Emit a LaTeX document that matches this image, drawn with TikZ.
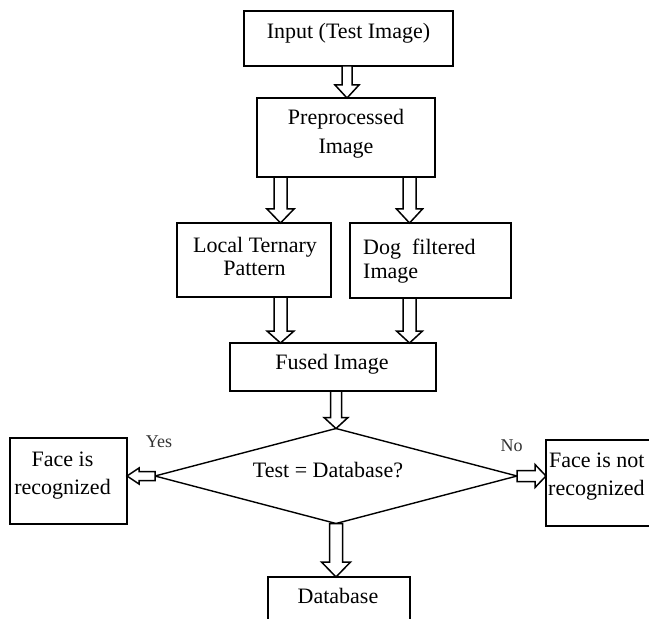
\documentclass[tikz,border=0pt]{standalone}
\usepackage{fontspec}
\setmainfont{Liberation Serif}
\usetikzlibrary{shapes.geometric,calc}
\tikzset{
  box/.style={draw=black, line width=1.4bp, inner sep=0pt, outer sep=0pt},
  txt/.style={inner sep=0pt, anchor=base, font=\fontsize{22bp}{26bp}\selectfont},
  small/.style={inner sep=0pt, anchor=base, text=black!80, font=\fontsize{18bp}{22bp}\selectfont},
  blk/.style={draw=black, fill=white, line width=1.5bp, line join=miter},
}
% downward block arrow: from, to, shaft half width, head half width, head length
\newcommand\dblk[5]{\draw[blk] let \p1=(#1), \p2=(#2) in
  (\x1-#3,\y1) -- (\x1-#3,\y2+#5) -- (\x1-#4,\y2+#5) -- (\x1,\y2)
  -- (\x1+#4,\y2+#5) -- (\x1+#3,\y2+#5) -- (\x1+#3,\y1) -- cycle;}
\newcommand\lblk[5]{\draw[blk] let \p1=(#1), \p2=(#2) in
  (\x1,\y1-#3) -- (\x2+#5,\y1-#3) -- (\x2+#5,\y1-#4) -- (\x2,\y1)
  -- (\x2+#5,\y1+#4) -- (\x2+#5,\y1+#3) -- (\x1,\y1+#3) -- cycle;}
\newcommand\rblk[5]{\draw[blk] let \p1=(#1), \p2=(#2) in
  (\x1,\y1-#3) -- (\x2-#5,\y1-#3) -- (\x2-#5,\y1-#4) -- (\x2,\y1)
  -- (\x2-#5,\y1+#4) -- (\x2-#5,\y1+#3) -- (\x1,\y1+#3) -- cycle;}
\begin{document}
\begin{tikzpicture}[x=1bp,y=-1bp]
\useasboundingbox[fill=white] (0,0) rectangle (649,619);
% boxes
\node[box, minimum width=209bp, minimum height=55bp] (in)  at (348.5,38.5) {};
\node[box, minimum width=178bp, minimum height=79bp] (pre) at (346,137.5) {};
\node[box, minimum width=154bp, minimum height=74bp] (lt)  at (254,260) {};
\node[box, minimum width=161bp, minimum height=75bp] (dog) at (430.5,260.5) {};
\node[box, minimum width=206bp, minimum height=48bp] (fu)  at (333,367) {};
\node[box, diamond, minimum width=362bp, minimum height=95bp] (dec) at (336,476) {};
\node[box, minimum width=117bp, minimum height=86bp] (lf)  at (68.5,481) {};
\node[box, minimum width=154bp, minimum height=86bp] (rt)  at (623,483) {};
\node[box, minimum width=142bp, minimum height=83bp] (db)  at (339,618.5) {};
% texts
\node[txt] (tin) at (348.5,39) {Input (Test Image)};
\node[txt] (tpre1) at (346,125) {Preprocessed};
\node[txt] (tpre2) at (346,154) {Image};
\node[txt] (tlt1) at (255,252) {Local Ternary};
\node[txt] (tlt2) at (254.5,275) {Pattern};
\node[txt, anchor=base west] (tdog1) at (363,254) {Dog\ \ filtered};
\node[txt, anchor=base west] (tdog2) at (363,278) {Image};
\node[txt] (tfu) at (332,369) {Fused Image};
\node[txt] (tdec) at (328,477) {Test = Database?};
\node[txt] (tlf1) at (62.5,466) {Face is};
\node[txt] (tlf2) at (62.5,494) {recognized};
\node[txt, anchor=base west] (trt1) at (549,467) {Face is not};
\node[txt, anchor=base west] (trt2) at (548,495) {recognized};
\node[txt] (tdb) at (338,603) {Database};
\node[small] (yes) at (159,447) {Yes};
\node[small] (no) at (511.5,451) {No};
% block arrows
\coordinate (c1) at (347,0);
\coordinate (c2) at (280.5,0);
\coordinate (c3) at (409.5,0);
\dblk{in.south -| c1}{pre.north -| c1}{5bp}{12bp}{13bp}
\dblk{pre.south -| c2}{lt.north -| c2}{6.5bp}{13.5bp}{14bp}
\dblk{pre.south -| c3}{dog.north -| c3}{6.5bp}{13bp}{14bp}
\dblk{lt.south -| c2}{fu.north -| c2}{6.5bp}{13.5bp}{12bp}
\dblk{dog.south -| c3}{fu.north -| c3}{6.5bp}{13bp}{12bp}
\dblk{fu.south -| dec.north}{dec.north}{5.5bp}{12bp}{11bp}
\dblk{dec.south}{db.north -| dec.south}{6.5bp}{14.5bp}{15bp}
\lblk{dec.west}{lf.east |- dec.west}{4.5bp}{8bp}{12bp}
\rblk{dec.east}{rt.west |- dec.east}{5.5bp}{11.5bp}{11bp}
\end{tikzpicture}
\end{document}
